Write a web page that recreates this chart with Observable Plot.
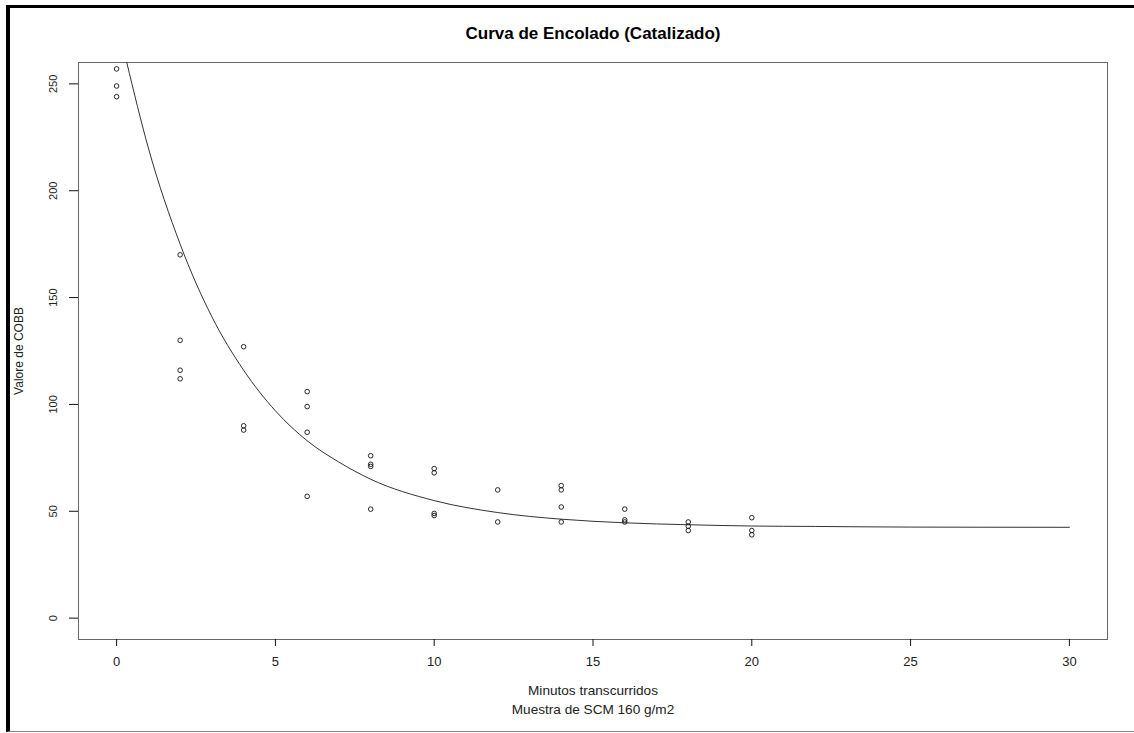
<!DOCTYPE html>
<html>
<head>
<meta charset="utf-8">
<script src="https://cdn.jsdelivr.net/npm/d3@7"></script>
<script src="https://cdn.jsdelivr.net/npm/@observablehq/plot@0.6"></script>
<style>
  html, body { margin: 0; padding: 0; background: #fff; }
  #wrap { position: relative; width: 1134px; height: 733px; overflow: hidden; background: #fff; }
  #wrap svg { position: absolute; left: 0; top: 0; }
  #border { position: absolute; left: 6px; top: 5px; width: 1140px; height: 727px; box-sizing: border-box;
            border-left: 4px solid #000; border-top: 3px solid #000; border-bottom: 1px solid #888; pointer-events: none; }
</style>
</head>
<body>
<div id="wrap"><div id="border"></div></div>
<script>
// Observed points: minutes elapsed and COBB value
const minutes = [0,0,0, 2,2,2,2, 4,4,4, 6,6,6,6, 8,8,8,8, 10,10,10,10, 12,12, 14,14,14,14, 16,16,16, 18,18,18, 20,20,20];
const cobb    = [257,249,244, 170,130,116,112, 127,90,88, 106,99,87,57, 76,72,71,51, 70,68,49,48, 60,45, 62,60,52,45, 51,46,45, 45,43,41, 47,41,39];

// Fitted curve
const curveX = [0.32, 1, 2, 3, 4, 5, 6, 7, 8, 10, 12, 14, 16, 18, 20, 22, 25, 30];
const curveY = [260, 220, 175, 141, 116, 97, 83, 73, 65, 55, 49.4, 46.3, 44.6, 43.7, 43.1, 42.9, 42.6, 42.5];

const xTicks = [0, 5, 10, 15, 20, 25, 30];
const yTicks = [0, 50, 100, 150, 200, 250];

const title = "Curva de Encolado (Catalizado)";
const yLabel = "Valore de COBB";
const xLabel1 = "Minutos transcurridos";
const xLabel2 = "Muestra de SCM 160 g/m2";

const points = minutes.map((m, i) => ({m, v: cobb[i]}));
const curve = curveX.map((x, i) => ({x, y: curveY[i]}));
const font = "Liberation Sans, Arial, sans-serif";
const mid = {textAnchor: "middle", lineAnchor: "middle"};

const chart = Plot.plot({
  width: 1134,
  height: 733,
  marginLeft: 78,
  marginRight: 27,
  marginTop: 62,
  marginBottom: 94,
  style: {fontFamily: font, background: "transparent", color: "#222"},
  x: {domain: [-1.2, 31.2], axis: null},
  y: {domain: [-10, 260], axis: null},
  marks: [
    Plot.frame({stroke: "#666", strokeWidth: 1}),
    Plot.axisX({ticks: xTicks, tickSize: 7, tickFormat: () => "", stroke: "#111", label: null}),
    Plot.axisY({ticks: yTicks, tickSize: 9, tickFormat: () => "", stroke: "#111", label: null}),
    Plot.text(xTicks, {x: d => d, frameAnchor: "bottom", dy: 22, ...mid, text: d => String(d), fontSize: 13, fill: "#222"}),
    Plot.text(yTicks, {y: d => d, frameAnchor: "left", dx: -25, rotate: -90, ...mid, text: d => String(d), fontSize: 11, fill: "#222"}),
    Plot.line(curve, {x: "x", y: "y", curve: "monotone-x", stroke: "#333", strokeWidth: 1}),
    Plot.dot(points, {x: "m", y: "v", r: 2.3, fill: "none", stroke: "#111", strokeWidth: 0.9}),
    Plot.text([title], {frameAnchor: "top", dy: -29, ...mid, text: d => d, fontSize: 17, fontWeight: "bold", fill: "#000"}),
    Plot.text([yLabel], {frameAnchor: "left", dx: -59, rotate: -90, ...mid, text: d => d, fontSize: 12, fill: "#222"}),
    Plot.text([xLabel1], {frameAnchor: "bottom", dy: 51, ...mid, text: d => d, fontSize: 13.6, fill: "#222"}),
    Plot.text([xLabel2], {frameAnchor: "bottom", dy: 70, ...mid, text: d => d, fontSize: 13.6, fill: "#222"})
  ]
});
document.getElementById("wrap").insertBefore(chart, document.getElementById("border"));
</script>
</body>
</html>
